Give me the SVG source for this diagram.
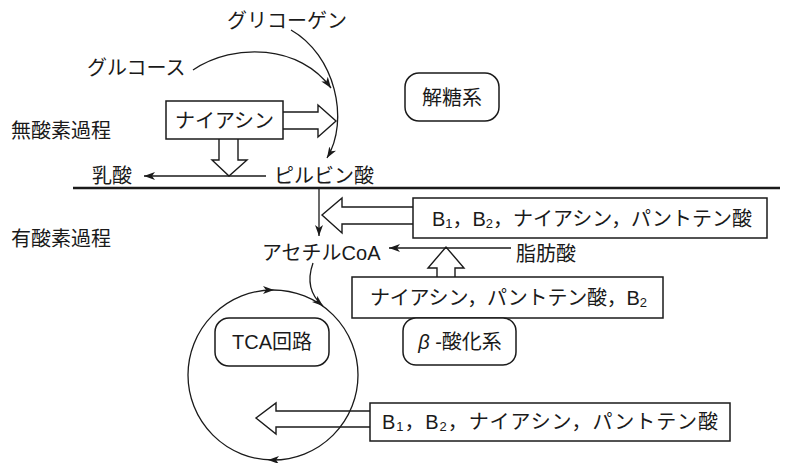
<svg xmlns="http://www.w3.org/2000/svg" width="791" height="463" viewBox="0 0 791 463">
<style>
text{font-family:"Liberation Sans","Noto Sans CJK JP",sans-serif;font-size:20px;fill:#1a1a1a;dominant-baseline:central}
.box{fill:#fff;stroke:#1a1a1a;stroke-width:1.5}
.ln{fill:none;stroke:#1a1a1a;stroke-width:1.3}
.hollow{fill:none;stroke:#1a1a1a;stroke-width:1.4;stroke-linejoin:miter}
.sub{font-size:13px}
</style>
<defs>
<marker id="ah" markerUnits="userSpaceOnUse" markerWidth="12" markerHeight="10" refX="11" refY="4" orient="auto">
<path d="M0,0 L11,4 L0,8 L3,4 z" fill="#1a1a1a"/>
</marker>
</defs>
<rect width="791" height="463" fill="#fff"/>

<g id="divider"><line x1="73" y1="188" x2="780" y2="188" stroke="#1a1a1a" stroke-width="2.5"/></g>

<g id="label-anaerobic"><text x="11" y="131">無酸素過程</text></g>
<g id="label-aerobic"><text x="11" y="239">有酸素過程</text></g>

<g id="glycogen"><text x="227" y="21">グリコーゲン</text></g>
<g id="glucose"><text x="87" y="68">グルコース</text></g>
<g id="niacin1"><rect class="box" x="166" y="101" width="117" height="38"/><text x="224.5" y="121" text-anchor="middle">ナイアシン</text></g>
<g id="lactate"><text x="92" y="176">乳酸</text></g>
<g id="pyruvate"><text x="274" y="176">ピルビン酸</text></g>
<g id="glycolysis"><rect class="box" x="405" y="73" width="94" height="48" rx="14"/><text x="452" y="98" text-anchor="middle">解糖系</text></g>

<g id="vitamins1"><rect class="box" x="413" y="198" width="354" height="40"/>
<text x="432" y="219" textLength="320" lengthAdjust="spacing">B<tspan class="sub" dy="4">1</tspan><tspan dy="-4">，B</tspan><tspan class="sub" dy="4">2</tspan><tspan dy="-4">，ナイアシン，パントテン酸</tspan></text></g>
<g id="acetylcoa"><text x="262" y="253">アセチルCoA</text></g>
<g id="fattyacid"><text x="516" y="254">脂肪酸</text></g>
<g id="vitamins2"><rect class="box" x="352" y="277" width="311" height="41"/>
<text x="370" y="298" textLength="277" lengthAdjust="spacing">ナイアシン，パントテン酸，B<tspan class="sub" dy="4">2</tspan></text></g>
<g id="betaox"><rect class="box" x="403" y="318" width="113" height="47" rx="13"/><text x="460" y="342" text-anchor="middle"><tspan font-style="italic">β</tspan> -酸化系</text></g>

<g id="tca-cycle">
<ellipse cx="273" cy="375" rx="85" ry="85" fill="none" stroke="#1a1a1a" stroke-width="1.3"/>
<path d="M274,290 L263,286 L266,290 L263,294 z" fill="#1a1a1a"/>
<path d="M268,460 L279,456 L276,460 L279,464 z" fill="#1a1a1a"/>
</g>
<g id="tca-label"><rect class="box" x="215" y="318" width="114" height="48" rx="14"/><text x="272" y="342" text-anchor="middle">TCA回路</text></g>
<g id="vitamins3"><rect class="box" x="370" y="403" width="360" height="38"/>
<text x="382" y="422" textLength="336" lengthAdjust="spacing">B<tspan class="sub" dy="4">1</tspan><tspan dy="-4">，B</tspan><tspan class="sub" dy="4">2</tspan><tspan dy="-4">，ナイアシン，パントテン酸</tspan></text></g>

<g id="connectors">
<path class="ln" d="M193,70 C235,42 300,45 331,88" marker-end="url(#ah)"/>
<path class="ln" d="M291,30 C335,55 350,120 327,158" marker-end="url(#ah)"/>
<line class="ln" x1="266" y1="176" x2="144" y2="176" marker-end="url(#ah)"/>
<path class="hollow" d="M283,112 L318,112 L318,105 L336,121 L318,137 L318,129 L283,129"/>
<path class="hollow" d="M219,139 L219,160 L212,160 L229,176 L247,160 L238,160 L238,139"/>
<line class="ln" x1="319" y1="189" x2="319" y2="236" marker-end="url(#ah)"/>
<path class="hollow" d="M413,207 L342,207 L342,198 L322,215 L342,233 L342,224 L413,224"/>
<line class="ln" x1="511" y1="248" x2="389" y2="248" marker-end="url(#ah)"/>
<path class="hollow" d="M437,277 L437,268 L428,268 L446,247 L464,268 L455,268 L455,277"/>
<path class="ln" d="M313,263 C307,280 310,295 323,306" marker-end="url(#ah)"/>
<path class="hollow" d="M370,411 L276,411 L276,403 L256,418 L276,434 L276,427 L370,427"/>
</g>
</svg>
